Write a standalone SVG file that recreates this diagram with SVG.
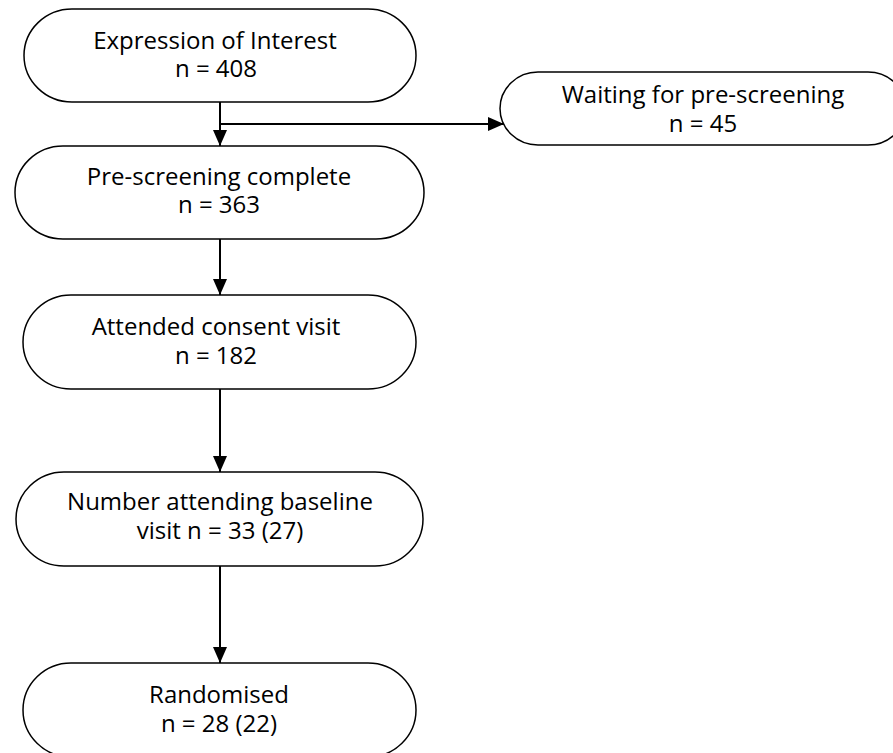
<svg xmlns="http://www.w3.org/2000/svg" width="893" height="753" viewBox="0 0 893 753">
<style>
.box{fill:#fff;stroke:#000;stroke-width:1.5}
.t{font-family:"Open Sans","Liberation Sans",sans-serif;font-size:24px;fill:#000;text-anchor:middle}
.c{fill:none;stroke:#000;stroke-width:2}
</style>
<defs>
<marker id="ah" markerWidth="16" markerHeight="14" refX="16" refY="7" orient="auto" markerUnits="userSpaceOnUse">
<path d="M0,0 L16,7 L0,14 Z" fill="#000"/>
</marker>
</defs>
<rect width="893" height="753" fill="#fff"/>
<g id="connectors">
<line class="c" x1="220" y1="102" x2="220" y2="146" marker-end="url(#ah)"/>
<line class="c" x1="220" y1="124" x2="504" y2="124" marker-end="url(#ah)"/>
<line class="c" x1="220" y1="239" x2="220" y2="295" marker-end="url(#ah)"/>
<line class="c" x1="220" y1="389" x2="220" y2="472" marker-end="url(#ah)"/>
<line class="c" x1="220" y1="566" x2="220" y2="663" marker-end="url(#ah)"/>
</g>
<g id="n1">
<rect class="box" x="24" y="9" width="392" height="93" rx="48" ry="46.5"/>
<text class="t" x="215" y="49">Expression of Interest</text>
<text class="t" x="216" y="77">n = 408</text>
</g>
<g id="n2">
<rect class="box" x="500" y="72" width="406" height="73" rx="38" ry="36.5"/>
<text class="t" x="703" y="103">Waiting for pre-screening</text>
<text class="t" x="703" y="132">n = 45</text>
</g>
<g id="n3">
<rect class="box" x="15" y="146" width="409" height="93" rx="48" ry="46.5"/>
<text class="t" x="219" y="185">Pre-screening complete</text>
<text class="t" x="219" y="213">n = 363</text>
</g>
<g id="n4">
<rect class="box" x="23" y="295" width="393" height="94" rx="48" ry="47"/>
<text class="t" x="216" y="335">Attended consent visit</text>
<text class="t" x="216" y="364">n = 182</text>
</g>
<g id="n5">
<rect class="box" x="16" y="472" width="407" height="94" rx="48" ry="47"/>
<text class="t" x="220" y="510">Number attending baseline</text>
<text class="t" x="220" y="539">visit n = 33 (27)</text>
</g>
<g id="n6">
<rect class="box" x="23" y="663" width="393" height="94" rx="48" ry="47"/>
<text class="t" x="219" y="703">Randomised</text>
<text class="t" x="219" y="732">n = 28 (22)</text>
</g>
</svg>
